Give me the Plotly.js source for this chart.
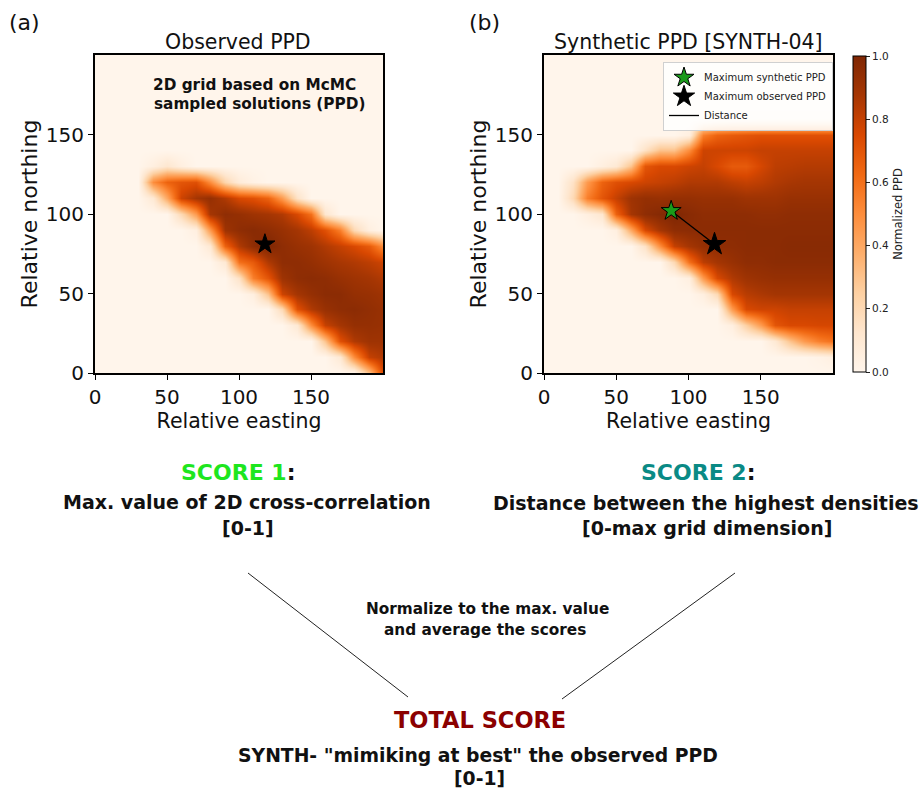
<!DOCTYPE html>
<html><head><meta charset="utf-8">
<script src="https://cdn.plot.ly/plotly-3.0.1.min.js"></script>
<style>html,body{margin:0;padding:0;background:#fff;} #chart{width:923px;height:790px;}</style>
</head><body><div id="chart"></div>
<script>
// grid coordinates (cell centres)
const eastingGrid  = [0,10,20,30,40,50,60,70,80,90,100,110,120,130,140,150,160,170,180,190,200];
const northingGrid = [0,10,20,30,40,50,60,70,80,90,100,110,120,130,140,150,160,170,180,190,200];

// Observed PPD (rows = northing 0..200, cols = easting 0..200), normalized
const observedPPD = [
 [0,0,0,0,0,0,0,0,0,0,0,0,0,0,0,0,0,0,0,0.3,0.75],
 [0,0,0,0,0,0,0,0,0,0,0,0,0,0,0,0,0,0.1,0.5,0.8,0.85],
 [0,0,0,0,0,0,0,0,0,0,0,0,0,0,0,0,0.3,0.72,0.85,0.9,0.9],
 [0,0,0,0,0,0,0,0,0,0,0,0,0,0,0.1,0.5,0.8,0.88,0.93,0.93,0.92],
 [0,0,0,0,0,0,0,0,0,0,0,0,0,0.2,0.72,0.85,0.92,0.95,0.96,0.94,0.92],
 [0,0,0,0,0,0,0,0,0,0,0,0.05,0.3,0.78,0.88,0.93,0.96,0.96,0.93,0.92,0.9],
 [0,0,0,0,0,0,0,0,0,0,0.15,0.55,0.7,0.9,0.95,0.96,0.95,0.92,0.9,0.88,0.85],
 [0,0,0,0,0,0,0,0,0,0.1,0.6,0.68,0.85,0.95,0.95,0.93,0.9,0.87,0.85,0.82,0.78],
 [0,0,0,0,0,0,0,0,0.1,0.65,0.85,0.95,1.0,0.95,0.92,0.9,0.85,0.8,0.75,0.68,0.5],
 [0,0,0,0,0,0,0,0.05,0.45,0.9,0.95,0.97,0.95,0.92,0.88,0.82,0.72,0.55,0.2,0.05,0],
 [0,0,0,0,0,0,0.2,0.45,0.88,0.95,0.93,0.9,0.88,0.85,0.75,0.6,0.12,0,0,0,0],
 [0,0,0,0,0.1,0.4,0.78,0.88,0.93,0.85,0.75,0.72,0.65,0.45,0.15,0,0,0,0,0,0],
 [0,0,0,0,0.5,0.65,0.7,0.72,0.5,0.22,0.08,0.03,0,0,0,0,0,0,0,0,0],
 [0,0,0,0,0.05,0.12,0.05,0,0,0,0,0,0,0,0,0,0,0,0,0,0],
 [0,0,0,0,0,0,0,0,0,0,0,0,0,0,0,0,0,0,0,0,0],
 [0,0,0,0,0,0,0,0,0,0,0,0,0,0,0,0,0,0,0,0,0],
 [0,0,0,0,0,0,0,0,0,0,0,0,0,0,0,0,0,0,0,0,0],
 [0,0,0,0,0,0,0,0,0,0,0,0,0,0,0,0,0,0,0,0,0],
 [0,0,0,0,0,0,0,0,0,0,0,0,0,0,0,0,0,0,0,0,0],
 [0,0,0,0,0,0,0,0,0,0,0,0,0,0,0,0,0,0,0,0,0],
 [0,0,0,0,0,0,0,0,0,0,0,0,0,0,0,0,0,0,0,0,0]
];

// Synthetic PPD [SYNTH-04]
const syntheticPPD = [
 [0,0,0,0,0,0,0,0,0,0,0,0,0,0,0,0,0,0,0,0,0],
 [0,0,0,0,0,0,0,0,0,0,0,0,0,0,0,0,0,0,0,0.02,0.05],
 [0,0,0,0,0,0,0,0,0,0,0,0,0,0,0,0,0.1,0.3,0.45,0.55,0.6],
 [0,0,0,0,0,0,0,0,0,0,0,0,0,0.05,0.25,0.45,0.7,0.75,0.75,0.76,0.76],
 [0,0,0,0,0,0,0,0,0,0,0,0,0,0.45,0.75,0.78,0.78,0.8,0.8,0.8,0.8],
 [0,0,0,0,0,0,0,0,0,0,0,0.05,0.2,0.75,0.83,0.86,0.88,0.88,0.88,0.88,0.88],
 [0,0,0,0,0,0,0,0,0,0,0.05,0.45,0.75,0.85,0.9,0.92,0.93,0.93,0.93,0.93,0.93],
 [0,0,0,0,0,0,0,0,0,0.2,0.6,0.82,0.88,0.92,0.95,0.95,0.96,0.96,0.96,0.96,0.96],
 [0,0,0,0,0,0,0,0.15,0.5,0.8,0.88,0.93,0.95,0.95,0.96,0.96,0.96,0.97,0.97,0.97,0.97],
 [0,0,0,0,0,0.05,0.4,0.75,0.88,0.95,0.96,0.96,0.96,0.96,0.96,0.96,0.96,0.96,0.96,0.96,0.96],
 [0,0,0,0.05,0.12,0.65,0.88,0.95,0.98,1.0,0.97,0.95,0.95,0.95,0.95,0.94,0.94,0.95,0.95,0.95,0.95],
 [0,0,0.2,0.55,0.7,0.8,0.9,0.93,0.92,0.93,0.93,0.92,0.92,0.92,0.9,0.9,0.9,0.92,0.92,0.92,0.92],
 [0,0,0.15,0.45,0.65,0.72,0.75,0.78,0.8,0.82,0.85,0.85,0.85,0.82,0.8,0.82,0.85,0.87,0.88,0.88,0.88],
 [0,0,0,0,0.05,0.1,0.3,0.7,0.75,0.75,0.78,0.8,0.75,0.68,0.68,0.76,0.82,0.83,0.84,0.84,0.84],
 [0,0,0,0,0,0,0,0.15,0.3,0.3,0.5,0.78,0.78,0.78,0.78,0.8,0.8,0.8,0.8,0.8,0.8],
 [0,0,0,0,0,0,0,0,0,0,0.05,0.55,0.65,0.68,0.7,0.72,0.72,0.72,0.72,0.72,0.72],
 [0,0,0,0,0,0,0,0,0,0,0,0,0.03,0.05,0.05,0.05,0.05,0.05,0.05,0.05,0.05],
 [0,0,0,0,0,0,0,0,0,0,0,0,0,0,0,0,0,0,0,0,0],
 [0,0,0,0,0,0,0,0,0,0,0,0,0,0,0,0,0,0,0,0,0],
 [0,0,0,0,0,0,0,0,0,0,0,0,0,0,0,0,0,0,0,0,0],
 [0,0,0,0,0,0,0,0,0,0,0,0,0,0,0,0,0,0,0,0,0]
];

// maxima positions
const observedMaxE = [118], observedMaxN = [81];
const syntheticMaxE = [88],  syntheticMaxN = [102];

const axisTicks = [0,50,100,150];
const cbTicks = [0,0.2,0.4,0.6,0.8,1.0];
const cbTickText = ['0.0','0.2','0.4','0.6','0.8','1.0'];

const oranges = [[0,'#fff5eb'],[0.125,'#fee6ce'],[0.25,'#fdd0a2'],[0.375,'#fdae6b'],[0.5,'#fd8d3c'],[0.625,'#f16913'],[0.75,'#d94801'],[0.875,'#a63603'],[1,'#7f2704']];

const FONT = 'DejaVu Sans, Verdana, sans-serif';
const W = 923, H = 790;
const px = v => v / W;
const py = v => 1 - v / H;

const traces = [
  {type:'heatmap', x:eastingGrid, y:northingGrid, z:observedPPD, colorscale:oranges, zmin:0, zmax:1,
   zsmooth:'best', showscale:false, xaxis:'x', yaxis:'y', hoverinfo:'skip'},
  {type:'heatmap', x:eastingGrid, y:northingGrid, z:syntheticPPD, colorscale:oranges, zmin:0, zmax:1,
   zsmooth:'best', xaxis:'x2', yaxis:'y2', hoverinfo:'skip',
   colorbar:{x:px(853), xanchor:'left', y:py(56), yanchor:'top', len:316, lenmode:'pixels',
     thickness:13, xpad:0, ypad:0, outlinewidth:1, outlinecolor:'#000',
     ticks:'outside', ticklen:4, tickwidth:1, tickcolor:'#222',
     tickvals:cbTicks, ticktext:cbTickText, tickfont:{family:FONT, size:10.5, color:'#222'},
     title:{text:'Normalized PPD', side:'right', font:{family:FONT, size:11.5, color:'#222'}}}},
  {type:'scatter', mode:'markers', x:observedMaxE, y:observedMaxN, xaxis:'x', yaxis:'y', showlegend:false,
   marker:{symbol:'star', size:15, color:'#000', line:{color:'#000', width:1}}, hoverinfo:'skip'},
  {type:'scatter', mode:'lines', name:'Distance', x:[syntheticMaxE[0], observedMaxE[0]], y:[syntheticMaxN[0], observedMaxN[0]],
   xaxis:'x2', yaxis:'y2', line:{color:'#000', width:1.3}, legendrank:3, hoverinfo:'skip'},
  {type:'scatter', mode:'markers', name:'Maximum synthetic PPD', x:syntheticMaxE, y:syntheticMaxN, xaxis:'x2', yaxis:'y2',
   marker:{symbol:'star', size:15, color:'#1a9a1a', line:{color:'#000', width:1}}, legendrank:1, hoverinfo:'skip'},
  {type:'scatter', mode:'markers', name:'Maximum observed PPD', x:observedMaxE, y:observedMaxN, xaxis:'x2', yaxis:'y2',
   marker:{symbol:'star', size:17, color:'#000', line:{color:'#000', width:1}}, legendrank:2, hoverinfo:'skip'}
];

function xax(domain, anchor){
  return {domain:domain, anchor:anchor, range:[0,200], tickvals:axisTicks, ticks:'outside', ticklen:5, tickwidth:1,
    tickcolor:'#000', showline:true, linewidth:2, linecolor:'#000', mirror:true, showgrid:false, zeroline:false,
    tickfont:{family:FONT, size:20, color:'#111'}, fixedrange:true,
    title:{text:'Relative easting', font:{family:FONT, size:20.5, color:'#111'}, standoff:0}};
}
function yax(domain, anchor){
  return {domain:domain, anchor:anchor, range:[0,200], tickvals:axisTicks, ticks:'outside', ticklen:5, tickwidth:1,
    tickcolor:'#000', showline:true, linewidth:2, linecolor:'#000', mirror:true, showgrid:false, zeroline:false,
    tickfont:{family:FONT, size:20, color:'#111'}, fixedrange:true,
    title:{text:'Relative northing', font:{family:FONT, size:22, color:'#111'}, standoff:2}};
}

function ann(text, x, y, size, opts){
  return Object.assign({text:text, x:px(x), y:py(y), xref:'paper', yref:'paper', xanchor:'center', yanchor:'middle',
    showarrow:false, font:{family:FONT, size:size, color:'#111'}}, opts||{});
}

const annotations = [
  ann('(a)', 24, 22, 22),
  ann('(b)', 484, 22, 22),
  ann('Observed PPD', 238, 42, 20.5),
  ann('Synthetic PPD [SYNTH-04]', 688, 42, 20.5),
  ann('<b>2D grid based on McMC</b>', 255, 85, 15.3),
  ann('<b>sampled solutions (PPD)</b>', 259, 104, 15.3),
  ann('<b><span style="color:#1ee61e">SCORE 1</span>:</b>', 238, 472, 22),
  ann('<b>Max. value of 2D cross-correlation</b>', 247, 502, 19),
  ann('<b>[0-1]</b>', 248, 528, 19),
  ann('<b><span style="color:#0a8a85">SCORE 2</span>:</b>', 698, 472, 22),
  ann('<b>Distance between the highest densities</b>', 706, 503, 19),
  ann('<b>[0-max grid dimension]</b>', 707, 528, 19),
  ann('<b>Normalize to the max. value</b>', 487, 609, 15.3),
  ann('<b>and average the scores</b>', 485, 630, 15.3),
  ann('<b><span style="color:#8b0000">TOTAL SCORE</span></b>', 480, 720, 22.5),
  ann('<b>SYNTH- "mimiking at best" the observed PPD</b>', 478, 755, 18.8),
  ann('<b>[0-1]</b>', 480, 778, 18.8)
];

const shapes = [
  {type:'line', xref:'paper', yref:'paper', x0:px(248), y0:py(573), x1:px(408), y1:py(697), line:{color:'#222', width:1}},
  {type:'line', xref:'paper', yref:'paper', x0:px(735), y0:py(573), x1:px(562), y1:py(699), line:{color:'#222', width:1}}
];

const layout = {
  width:W, height:H, margin:{l:0, r:0, t:0, b:0}, paper_bgcolor:'#fff', plot_bgcolor:'#fff',
  font:{family:FONT, color:'#111'},
  xaxis: xax([px(95), px(383)], 'y'),
  yaxis: yax([py(373), py(55)], 'x'),
  xaxis2: xax([px(544), px(833)], 'y2'),
  yaxis2: yax([py(373), py(55)], 'x2'),
  showlegend:true,
  legend:{x:px(663), y:py(62), xanchor:'left', yanchor:'top', bgcolor:'rgba(255,255,255,0.85)', bordercolor:'#d0d0d0', borderwidth:1,
    font:{family:FONT, size:10, color:'#222'}, itemwidth:30, tracegroupgap:0},
  annotations:annotations,
  shapes:shapes
};

Plotly.newPlot('chart', traces, layout, {displayModeBar:false, staticPlot:true});
</script></body></html>
